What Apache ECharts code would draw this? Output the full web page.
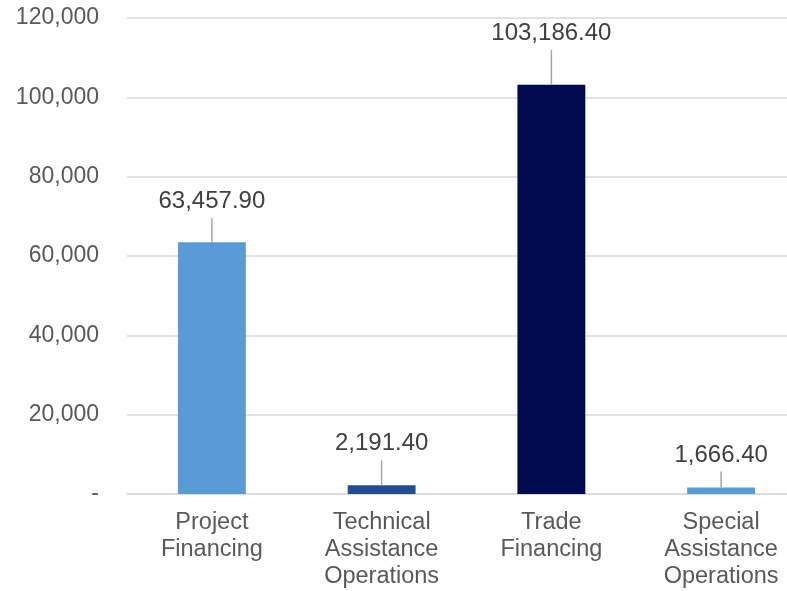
<!DOCTYPE html>
<html>
<head>
<meta charset="utf-8">
<script src="https://cdn.jsdelivr.net/npm/echarts@6/dist/echarts.min.js"></script>
<style>
  html, body { margin: 0; padding: 0; background: #ffffff; overflow: hidden; width: 787px; height: 591px; }
  /* the plot runs past the right edge of the page */
  #chart { width: 806px; height: 591px; }
</style>
</head>
<body>
<div id="chart"></div>
<script>
// Amounts by operation type
const categories = [
  'Project\nFinancing',
  'Technical\nAssistance\nOperations',
  'Trade\nFinancing',
  'Special\nAssistance\nOperations'
];
const amounts = [63457.90, 2191.40, 103186.40, 1666.40];
const yTicks = [0, 20000, 40000, 60000, 80000, 100000, 120000];

// Bar colours and leader line lengths, one per category
const barColors = ['#5b9bd5', '#234c93', '#020b4f', '#5b9bd5'];
const leaderLengths = [24, 25, 35, 16];

const fmtValue = v => v.toLocaleString('en-US', { minimumFractionDigits: 2, maximumFractionDigits: 2 });
const fmtTick = v => v === 0 ? '-' : v.toLocaleString('en-US');

const font = 'Liberation Sans, Arial, sans-serif';

const chart = echarts.init(document.getElementById('chart'), null, { renderer: 'canvas' });

chart.setOption({
  animation: false,
  backgroundColor: '#ffffff',
  grid: { left: 127, right: 0, top: 18, bottom: 97, containLabel: false },
  xAxis: {
    type: 'category',
    data: categories,
    axisTick: { show: false },
    axisLine: { show: true, lineStyle: { color: '#d9d9d9', width: 1.5 } },
    axisLabel: {
      color: '#595959',
      fontFamily: font,
      fontSize: 23.5,
      lineHeight: 27,
      margin: 15,
      interval: 0
    }
  },
  yAxis: {
    type: 'value',
    min: yTicks[0],
    max: yTicks[yTicks.length - 1],
    interval: yTicks[1] - yTicks[0],
    axisLine: { show: false },
    axisTick: { show: false },
    splitLine: { lineStyle: { color: '#d9d9d9', width: 1.5 } },
    axisLabel: {
      color: '#595959',
      fontFamily: font,
      fontSize: 23,
      margin: 28,
      formatter: fmtTick
    }
  },
  series: [{
    type: 'bar',
    barWidth: '40%',
    data: amounts.map((v, i) => ({
      value: v,
      itemStyle: { color: barColors[i] },
      label: {
        rich: {
          l: { width: 1.5, height: leaderLengths[i], backgroundColor: '#a6a6a6' }
        }
      }
    })),
    label: {
      show: true,
      position: 'top',
      distance: 0,
      formatter: p => '{v|' + fmtValue(p.value) + '}\n{l|}',
      rich: {
        v: { color: '#404040', fontFamily: font, fontSize: 24, lineHeight: 33 },
        l: { width: 1.5, height: 24, backgroundColor: '#a6a6a6' }
      }
    }
  }]
});
</script>
</body>
</html>
